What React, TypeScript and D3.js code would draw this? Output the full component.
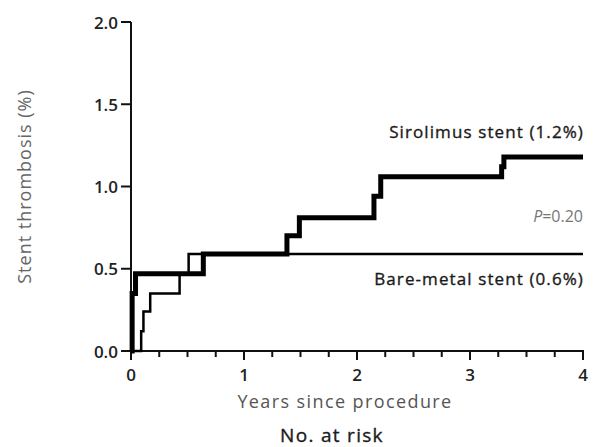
import * as d3 from "d3";

type StepPoint = { t: number; v: number };

// sirolimus-eluting stent, cumulative stent thrombosis (%)
const sirolimusTimes = [0, 0.01, 0.04, 0.64, 1.38, 1.49, 2.15, 2.21, 3.28, 3.3, 4.0];
const sirolimusValues = [0, 0.35, 0.47, 0.59, 0.7, 0.81, 0.94, 1.06, 1.12, 1.18, 1.18];

// bare-metal stent
const bareTimes = [0, 0.09, 0.11, 0.17, 0.43, 0.51, 4.0];
const bareValues = [0, 0.12, 0.24, 0.35, 0.47, 0.59, 0.59];

const yTickLabels = ["0.0", "0.5", "1.0", "1.5", "2.0"];
const xTickLabels = ["0", "1", "2", "3", "4"];

const toPoints = (ts: number[], vs: number[]): StepPoint[] => ts.map((t, i) => ({ t, v: vs[i] }));

export default function App() {
    const width = 602;
    const height = 447;
    const x = d3.scaleLinear().domain([0, 4]).range([131, 583]);
    const y = d3.scaleLinear().domain([0, 2]).range([351, 22]);

    const line = d3
        .line<StepPoint>()
        .x((d) => x(d.t))
        .y((d) => y(d.v))
        .curve(d3.curveStepAfter);

    const sirolimus = line(toPoints(sirolimusTimes, sirolimusValues)) ?? "";
    const bare = line(toPoints(bareTimes, bareValues)) ?? "";

    const minorTicks = d3.range(0, 4.0001, 0.25);
    const font = "'Open Sans', Lato, sans-serif";

    return (
        <svg
            width={width}
            height={height}
            viewBox={`0 0 ${width} ${height}`}
            style={{ position: "absolute", left: 0, top: 0, background: "#fff" }}
            fontFamily={font}
        >
            {/* y axis */}
            <line x1={x(0)} x2={x(0)} y1={y(2)} y2={y(0)} stroke="#111" strokeWidth={2} />
            {yTickLabels.map((lab) => (
                <g key={lab}>
                    <line x1={x(0) - 10} x2={x(0)} y1={y(+lab)} y2={y(+lab)} stroke="#111" strokeWidth={2} />
                    <text
                        x={x(0) - 13}
                        y={y(+lab)}
                        textAnchor="end"
                        dominantBaseline="central"
                        fontSize={17}
                        fontWeight={600}
                        fill="#222"
                    >
                        {lab}
                    </text>
                </g>
            ))}

            {/* x axis */}
            <line x1={x(0) - 1} x2={x(4) + 1} y1={y(0)} y2={y(0)} stroke="#111" strokeWidth={2} />
            {minorTicks.map((t) => (
                <line
                    key={t}
                    x1={x(t)}
                    x2={x(t)}
                    y1={y(0)}
                    y2={y(0) + (Number.isInteger(t) ? 9 : 6)}
                    stroke="#111"
                    strokeWidth={2}
                />
            ))}
            {xTickLabels.map((lab) => (
                <text
                    key={lab}
                    x={x(+lab)}
                    y={y(0) + 30}
                    textAnchor="middle"
                    fontSize={17}
                    fontWeight={600}
                    fill="#222"
                >
                    {lab}
                </text>
            ))}

            {/* curves */}
            <path d={bare} fill="none" stroke="#000" strokeWidth={2.5} />
            <path d={sirolimus} fill="none" stroke="#000" strokeWidth={5} />

            {/* labels */}
            <g fontSize={17} letterSpacing={1.1} fill="#1a1a1a" stroke="#1a1a1a" strokeWidth={0.35}>
                <text x={x(4) + 1} y={y(1.18) - 19} textAnchor="end">
                    Sirolimus stent (1.2%)
                </text>
                <text x={x(4) + 1} y={y(0.59) + 31} textAnchor="end">
                    Bare-metal stent (0.6%)
                </text>
            </g>
            <text x={x(4)} y={y(0.81) + 4} textAnchor="end" fontSize={16} fill="#777">
                <tspan fontStyle="italic">P</tspan>=0.20
            </text>

            <text
                transform={`translate(24, ${y(1.0)}) rotate(-90)`}
                textAnchor="middle"
                dominantBaseline="central"
                fontSize={18}
                letterSpacing={1}
                fill="#666"
            >
                Stent thrombosis (%)
            </text>
            <text x={345} y={y(0) + 57} textAnchor="middle" fontSize={18} letterSpacing={1.4} fill="#555">
                Years since procedure
            </text>
            <text
                x={332}
                y={y(0) + 91}
                textAnchor="middle"
                fontSize={19}
                letterSpacing={1.3}
                fill="#1a1a1a"
                stroke="#1a1a1a"
                strokeWidth={0.35}
            >
                No. at risk
            </text>
        </svg>
    );
}
